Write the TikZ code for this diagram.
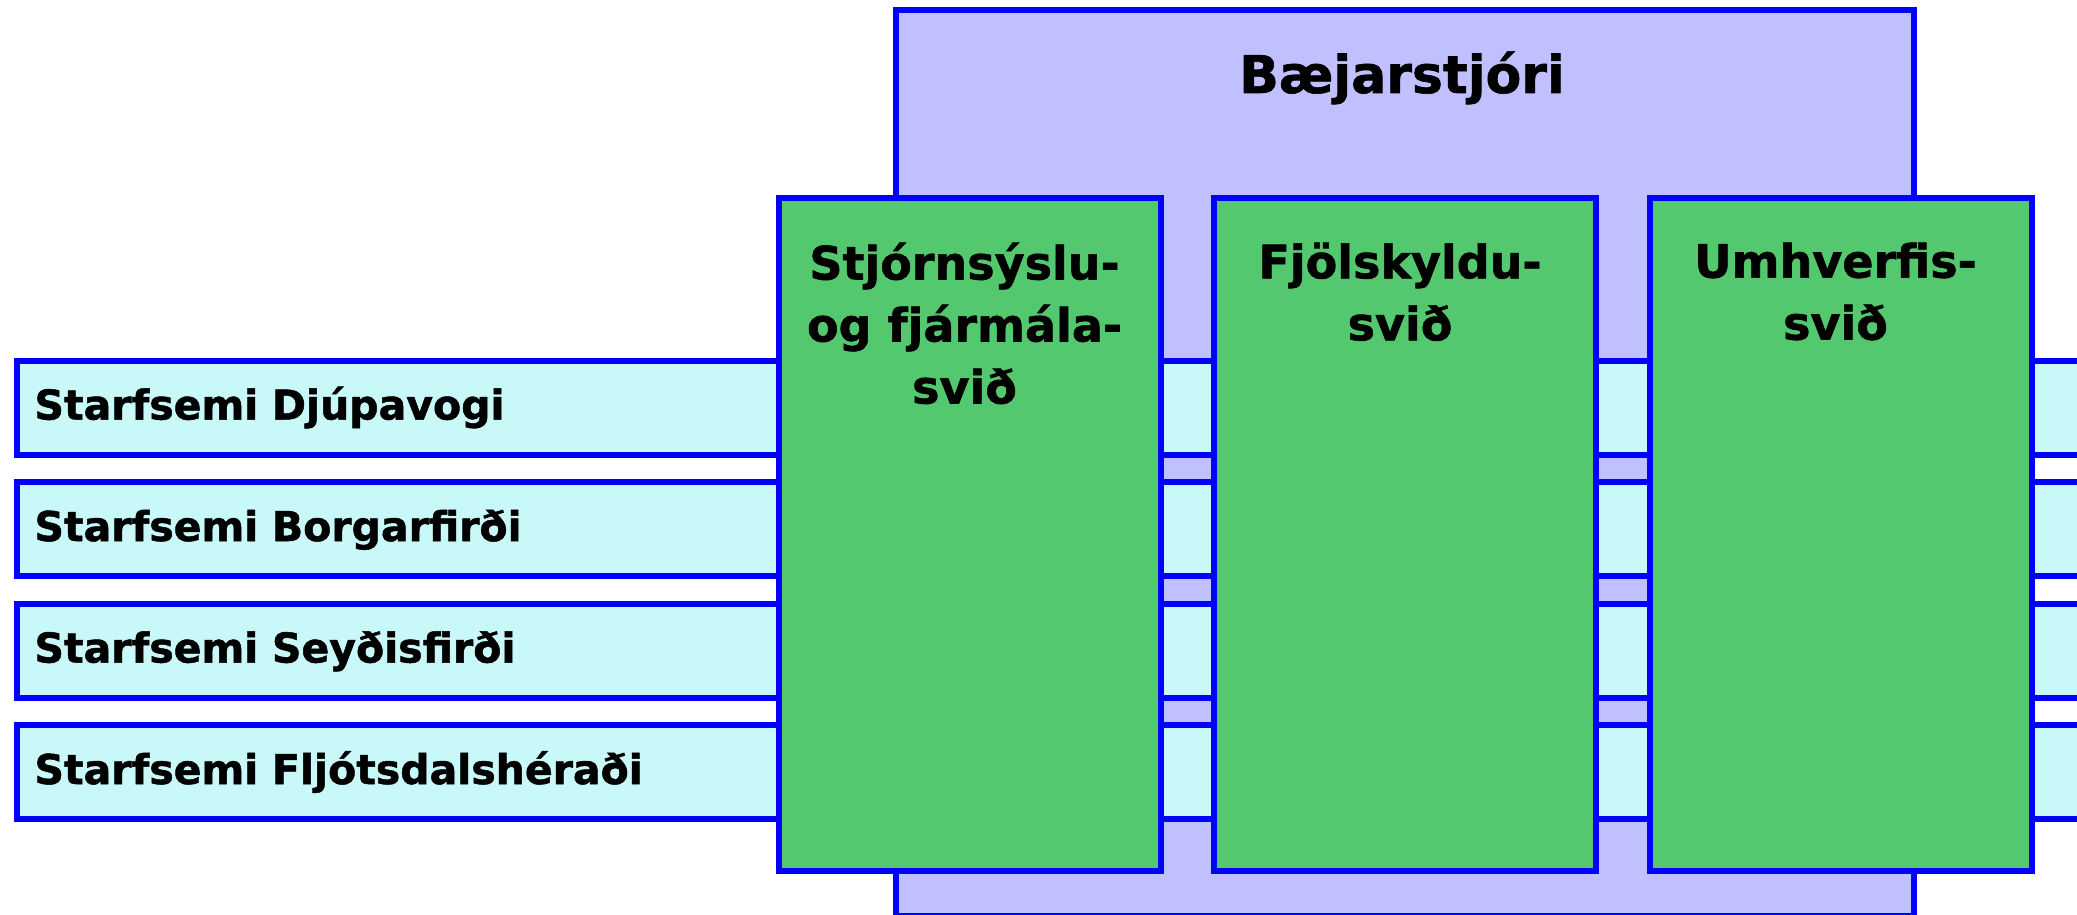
\documentclass[tikz,border=0pt]{standalone}
\usepackage{fontspec}
\setmainfont{DejaVu Sans}[BoldFeatures={FakeBold=1.2}]
\usetikzlibrary{positioning}
\definecolor{mayorfill}{RGB}{192,192,255}
\definecolor{divfill}{RGB}{83,200,110}
\definecolor{sitefill}{RGB}{200,248,248}
\definecolor{edgeblue}{RGB}{0,0,255}
\tikzset{
    box/.style={draw=edgeblue, line width=6pt, inner sep=0pt, anchor=north west},
    mayor/.style={box, fill=mayorfill, minimum width=1018pt, minimum height=906pt},
    division/.style={box, fill=divfill, minimum width=382pt, minimum height=673.5pt},
    site/.style={box, fill=sitefill, minimum width=2200pt, minimum height=94pt,
        inner xsep=18pt, text width=2164pt, align=left,
        text height=30pt, text depth=6pt,
        font=\fontsize{41}{41}\selectfont\bfseries},
    divtext/.style={inner sep=0pt, anchor=north, align=center, xshift=-5pt,
        font=\fontsize{46}{62}\selectfont\bfseries}
}
\begin{document}
\begin{tikzpicture}[x=1pt,y=-1pt]
        \useasboundingbox (0,0) rectangle (2077,915);
        \clip (0,0) rectangle (2077,915);

        % the mayor in the back
        \node[mayor] (mayor) at (893,7) {};
        \node[anchor=base, font=\fontsize{52}{52}\selectfont\bfseries] (mayortext) at (1402,93) {Bæjarstjóri};

        % the local operations
        \foreach \i/\sitename in {0/Djúpavogi,1/Borgarfirði,2/Seyðisfirði,3/Fljótsdalshéraði}
                \node[site] (site\i) at (13.5,{357.5+121.5*\i}) {Starfsemi \sitename};

        % the three divisions on top
        \node[division] (div1) at (775.5,194.5) {};
        \node[division] (div2) at (1211,194.5) {};
        \node[division] (div3) at (1646.5,194.5) {};

        \node[divtext, below=48pt of div1.north] (div1text) {Stjórnsýslu-\\og fjármála-\\svið};
        \node[divtext, below=48pt of div2.north] (div2text) {Fjölskyldu-\\svið};
        \node[divtext, below=48pt of div3.north] (div3text) {Umhverfis-\\svið};
\end{tikzpicture}
\end{document}
